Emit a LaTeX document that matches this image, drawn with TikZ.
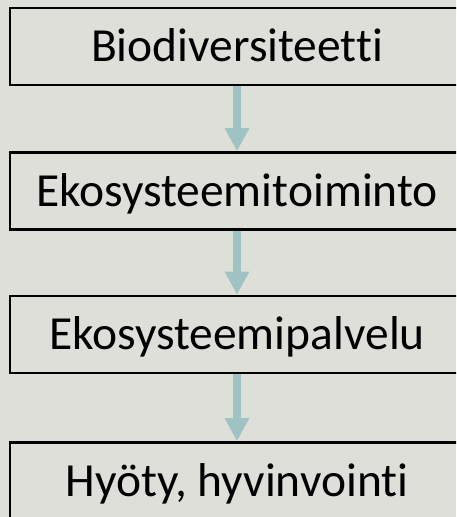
\documentclass[tikz,border=0pt]{standalone}
\usepackage{fontspec}
\setmainfont[Ligatures={NoCommon}, RawFeature={-liga;-clig;-dlig}]{Carlito}
\usetikzlibrary{arrows.meta}
\definecolor{bgpaper}{RGB}{223,223,217}
\definecolor{flowteal}{RGB}{159,195,195}
\tikzset{
  x=1pt, y=1pt,
  stage/.style={draw=black, line width=2.6pt, fill=none, rectangle,
    minimum width=454pt, minimum height=77pt, inner sep=0pt,
    text height=30pt, text depth=0pt,
    font=\fontsize{47.5}{50}\selectfont},
  flow/.style={draw=flowteal, line width=8pt,
    -{Triangle[width=23pt, length=23pt]}}
}
\begin{document}
\begin{tikzpicture}
  \useasboundingbox (0,0) rectangle (456,-517);
  \fill[bgpaper] (0,0) rectangle (456,-517);
  \clip (0,0) rectangle (456,-517);
  \node[stage] (bio) at (237,-46.5) {Biodiversiteetti};
  \node[stage] (eko) at (237,-191) {Ekosysteemitoiminto};
  \node[stage] (pal) at (237,-334.5) {Ekosysteemipalvelu};
  \node[stage] (hyo) at (237,-481) {Hyöty, hyvinvointi};
  \draw[flow] (bio.south) -- (eko.north);
  \draw[flow] (eko.south) -- (pal.north);
  \draw[flow] (pal.south) -- (hyo.north);
\end{tikzpicture}
\end{document}
